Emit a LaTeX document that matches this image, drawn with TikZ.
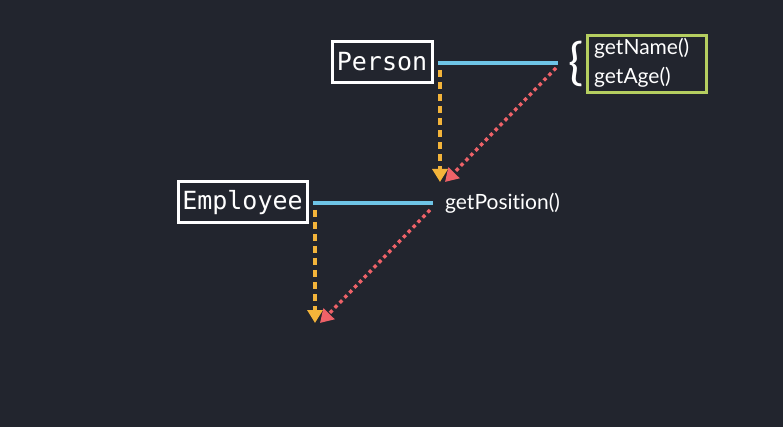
\documentclass[tikz,border=0pt]{standalone}
\usepackage{fontspec}
\setmainfont{Lato}[Ligatures={NoCommon,NoRare}]
\newfontfamily\codefont{DejaVu Sans Mono}
\usetikzlibrary{arrows.meta}
\definecolor{bgc}{RGB}{34,37,46}
\definecolor{lineblue}{RGB}{110,196,230}
\definecolor{dashorange}{RGB}{243,180,58}
\definecolor{dotred}{RGB}{238,98,104}
\definecolor{boxgreen}{RGB}{181,206,96}
\tikzset{
  classbox/.style={draw=white, line width=3pt, fill=bgc, text=white, font=\codefont\fontsize{25}{28}\selectfont, inner sep=3pt, minimum height=41pt},
  link/.style={lineblue, line width=3.6pt},
  inherit/.style={dashorange, line width=3.4pt, dash pattern=on 7pt off 5pt, -{Triangle[length=13pt,width=15pt]}},
  calls/.style={dotred, line width=3.4pt, dash pattern=on 3.5pt off 3.5pt, -{Triangle[length=13pt,width=15pt]}},
  methodtext/.style={text=white, font=\fontsize{21}{24}\selectfont, inner sep=0pt}
}
\begin{document}
\begin{tikzpicture}[x=1pt,y=-1pt]
\fill[bgc] (0,0) rectangle (783,427);
\useasboundingbox (0,0) rectangle (783,427);
% Person
\node[classbox, minimum width=100pt] (person) at (382,62) {Person};
\coordinate (pl1) at (438,63);
\coordinate (pl2) at (558,63);
\draw[link] (pl1) -- (pl2);
\node[draw=boxgreen, line width=3pt, minimum width=119pt, minimum height=57pt, inner sep=0pt] (methods) at (646.5,64.5) {};
\node[methodtext, anchor=west] (getname) at (594,48) {getName()};
\node[methodtext, anchor=west] (getage) at (594,77) {getAge()};
\node[text=white, font=\fontsize{50}{54}\selectfont, inner sep=0pt] (brace) at (576,64) {\{};
\coordinate (po1) at (440,70);
\coordinate (po2) at (440,182);
\draw[inherit] (po1) -- (po2);
\coordinate (pr1) at (556,68);
\coordinate (pr2) at (445,182);
\draw[calls] (pr1) -- (pr2);
% Employee
\node[classbox, minimum width=129pt] (employee) at (242.5,202.5) {Employee};
\coordinate (el1) at (313,203);
\coordinate (el2) at (433,203);
\draw[link] (el1) -- (el2);
\node[methodtext, anchor=west] (getpos) at (445,203) {getPosition()};
\coordinate (eo1) at (315,210);
\coordinate (eo2) at (315,323);
\draw[inherit] (eo1) -- (eo2);
\coordinate (er1) at (430,210);
\coordinate (er2) at (320,323);
\draw[calls] (er1) -- (er2);
\end{tikzpicture}
\end{document}
